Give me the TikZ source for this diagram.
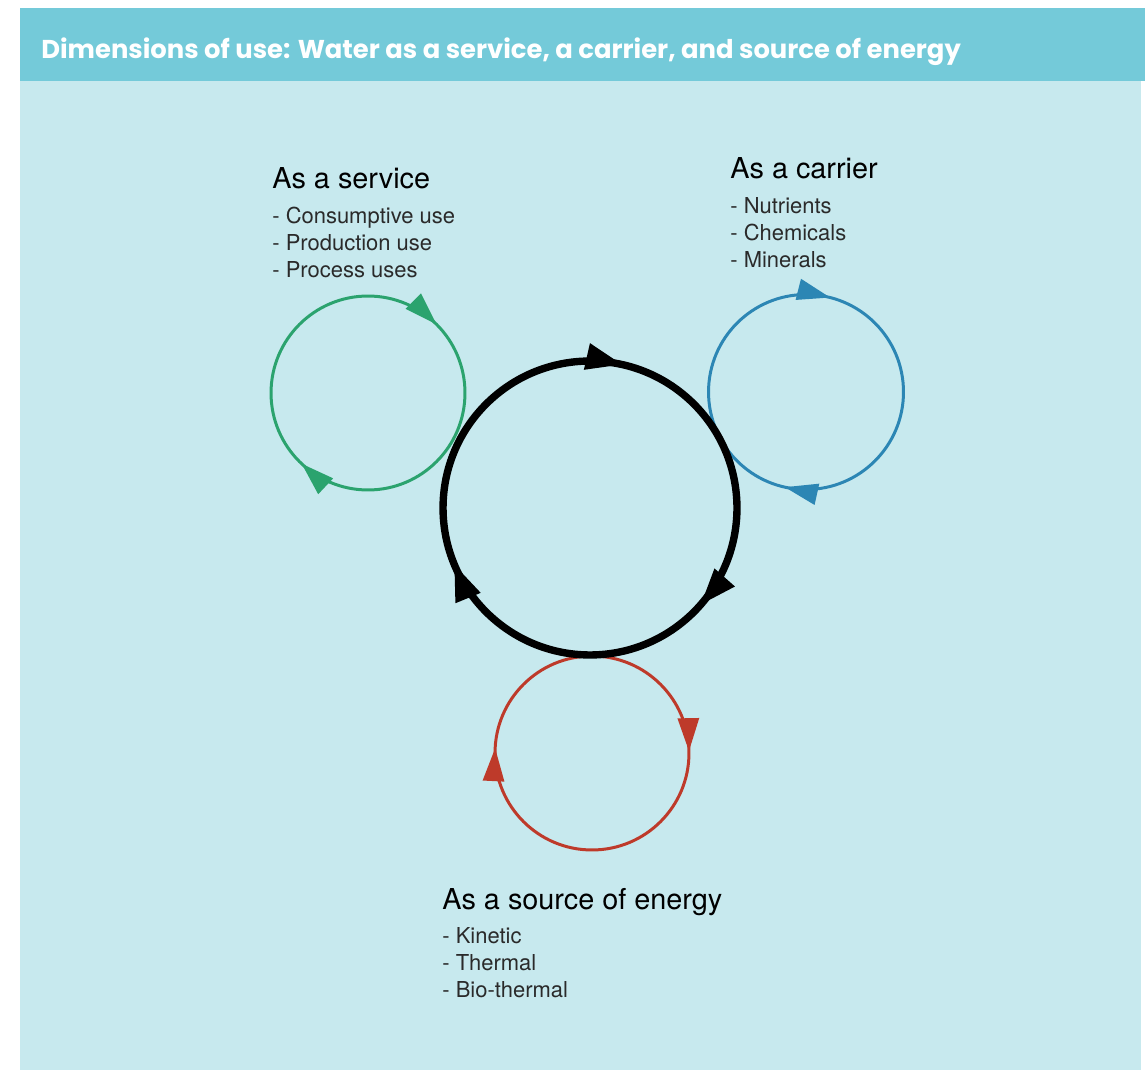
\documentclass[tikz,border=0pt]{standalone}
\usepackage{fontspec}
\setmainfont{TeX Gyre Heros}
\newfontfamily\titlefont{Poppins}
\usetikzlibrary{arrows.meta,decorations.markings}
\definecolor{bandblue}{HTML}{74CAD9}
\definecolor{panelblue}{HTML}{C7E9EE}
\definecolor{svcgreen}{HTML}{2BA36E}
\definecolor{carblue}{HTML}{2C86B4}
\definecolor{nrgred}{HTML}{BE3A2A}
\definecolor{inkgrey}{HTML}{2A2A2A}
\tikzset{
  head/.style={inner sep=0pt, text=black, font=\fontsize{16.4}{19}\selectfont},
  items/.style={inner sep=0pt, text=inkgrey, align=left,
                font=\fontsize{12.5}{15.3}\selectfont},
  ring/.style={line width=1.7pt, >={Triangle[length=0.66cm,width=0.42cm]}},
  bigring/.style={line width=4.2pt, >={Triangle[length=0.74cm,width=0.5cm]}},
  flowtip/.style={postaction={decorate,
      decoration={markings, mark=at position #1 with {\arrow{>}}}}}
}

\begin{document}
\begin{tikzpicture}[x=0.02cm, y=-0.02cm]
  \useasboundingbox (0,0) rectangle (1145,1070);
  %% header and panel
  \fill[panelblue] (19.5,80) rectangle (1141,1070);
  \fill[bandblue] (19.5,8) rectangle (1145,81);
  \node[anchor=base west, inner sep=0pt, text=white,
        font=\titlefont\bfseries\fontsize{14.7}{17}\selectfont] (title) at (41,59)
        {Dimensions of use: Water as a service, a carrier, and source of energy};

  %% ring centres
  \coordinate (svc) at (368,393);
  \coordinate (core) at (590,508);
  \coordinate (car) at (806,392);
  \coordinate (nrg) at (592,753);

  %% rings, all turning clockwise
  \draw[ring, color=svcgreen, flowtip=0.125, flowtip=0.62]
    (svc) ++(90:1.94cm) arc[start angle=90, end angle=-270, radius=1.94cm];
  \draw[ring, color=carblue, flowtip=0.04, flowtip=0.535]
    (car) ++(90:1.95cm) arc[start angle=90, end angle=-270, radius=1.95cm];
  \draw[ring, color=nrgred, flowtip=0.247, flowtip=0.758]
    (nrg) ++(90:1.94cm) arc[start angle=90, end angle=-270, radius=1.94cm];
  \draw[bigring, color=black, flowtip=0.036, flowtip=0.365, flowtip=0.688]
    (core) ++(90:2.94cm) arc[start angle=90, end angle=-270, radius=2.94cm];

  %% labels
  \node[head, anchor=base west] (svc-head) at (272,189) {As a service};
  \node[items, anchor=north west] (svc-items) at ([yshift=-0.36cm]svc-head.base west)
    {- Consumptive use\\- Production use\\- Process uses};
  \node[head, anchor=base west] (car-head) at (730,179) {As a carrier};
  \node[items, anchor=north west] (car-items) at ([yshift=-0.36cm]car-head.base west)
    {- Nutrients\\- Chemicals\\- Minerals};
  \node[head, anchor=base west] (nrg-head) at (442,909) {As a source of energy};
  \node[items, anchor=north west] (nrg-items) at ([yshift=-0.36cm]nrg-head.base west)
    {- Kinetic\\- Thermal\\- Bio-thermal};
\end{tikzpicture}
\end{document}
